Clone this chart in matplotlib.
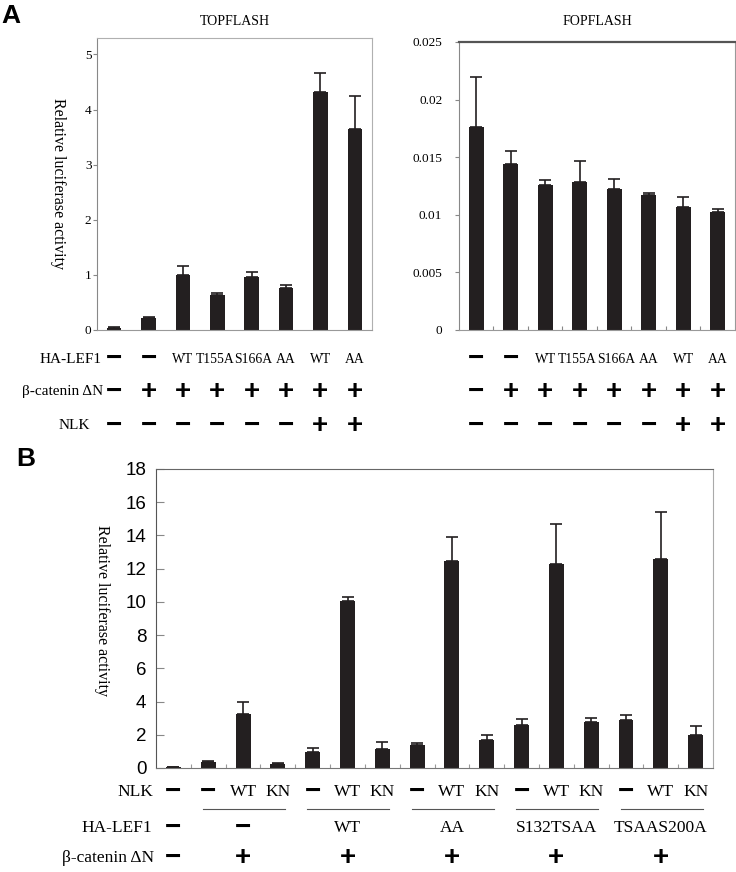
import numpy as np
import matplotlib
matplotlib.use('Agg')
import matplotlib.pyplot as plt
from matplotlib.transforms import blended_transform_factory

# --- data ---
top_mean = [0.03, 0.21, 0.99, 0.64, 0.97, 0.77, 4.32, 3.65]
top_sd = [0.02, 0.02, 0.17, 0.03, 0.08, 0.05, 0.35, 0.60]

fop_mean = [0.01763, 0.01439, 0.01257, 0.01283, 0.01223, 0.01168, 0.01064, 0.01020]
fop_sd = [0.00434, 0.00113, 0.00049, 0.00182, 0.00086, 0.00017, 0.00092, 0.00026]

a_lef1 = ['−', '−', 'WT', 'T155A', 'S166A', 'AA', 'WT', 'AA']
a_bcat = ['−', '+', '+', '+', '+', '+', '+', '+']
a_nlk = ['−', '−', '−', '−', '−', '−', '+', '+']

top_ticks = [0, 1, 2, 3, 4, 5]
fop_ticks = [0, 0.005, 0.01, 0.015, 0.02, 0.025]
fop_ticklabels = ['0', '0.005', '0.01', '0.015', '0.02', '0.025']

b_mean = [0.04, 0.34, 3.23, 0.24, 0.98, 10.08, 1.14, 1.39, 12.43, 1.67,
          2.57, 12.27, 2.79, 2.87, 12.57, 1.99]
b_sd = [0.0, 0.08, 0.77, 0.04, 0.21, 0.24, 0.41, 0.11, 1.50, 0.32,
        0.40, 2.41, 0.24, 0.32, 2.81, 0.56]
b_nlk = ['−', '−', 'WT', 'KN', '−', 'WT', 'KN', '−', 'WT', 'KN',
         '−', 'WT', 'KN', '−', 'WT', 'KN']
# groups: (first bar, last bar, HA-LEF1 label, beta-catenin label)
b_groups = [(0, 0, '−', '−'), (1, 3, '−', '+'), (4, 6, 'WT', '+'),
            (7, 9, 'AA', '+'), (10, 12, 'S132TSAA', '+'), (13, 15, 'TSAAS200A', '+')]
b_ticks = [0, 2, 4, 6, 8, 10, 12, 14, 16, 18]

SERIF = 'Liberation Serif'
SANS = 'Liberation Sans'
BAR = '#231f20'

fig = plt.figure(figsize=(7.36, 8.72), dpi=100)


def sym(ax, trans, x, y, s, size):
    # plus / minus signs drawn bold, other labels in serif
    if s in ('+', '−'):
        ax.text(x, y, s, transform=trans, ha='center', va='center',
                fontsize=20, fontweight='bold', family=SANS, clip_on=False)
    else:
        ax.text(x, y, s, transform=trans, ha='center', va='center',
                fontsize=size, family=SERIF, clip_on=False)


def table_row(ax, y, labels, size):
    trans = blended_transform_factory(ax.transData, fig.transFigure)
    for i, s in enumerate(labels):
        if s == 'T155A':
            ax.text(i + 0.5, y, s, transform=trans, ha='right', va='center',
                    fontsize=size, family=SERIF)
        elif s == 'S166A':
            ax.text(i - 0.5, y, s, transform=trans, ha='left', va='center',
                    fontsize=size, family=SERIF)
        else:
            sym(ax, trans, i, y, s, size)


rows_y = [0.588, 0.5505, 0.5115]

# --- panel A, TOPFLASH ---
ax1 = fig.add_axes([0.1318, 0.6216, 0.3736, 0.3349])
x = np.arange(len(top_mean))
ax1.bar(x, top_mean, width=0.42, color=BAR)
ax1.errorbar(x, top_mean, yerr=[np.zeros(len(top_sd)), top_sd], fmt='none',
             ecolor=BAR, elinewidth=1.2, capsize=4, capthick=1.2)
ax1.set_xlim(-0.5, 7.5)
ax1.set_ylim(0, 5.3)
ax1.set_xticks([])
ax1.set_yticks(top_ticks)
ax1.tick_params(axis='y', direction='out', length=3, pad=1, color='#888',
                labelsize=9.5)
for lab in ax1.get_yticklabels():
    lab.set_family(SERIF)
for side in ['top', 'right']:
    ax1.spines[side].set_color('#b0b0b0')
ax1.spines['left'].set_color('#888')
ax1.spines['bottom'].set_color('#999')
ax1.set_title('TOPFLASH', family=SERIF, fontsize=10, pad=9)
ax1.text(-0.142, 0.5, 'Relative luciferase activity', transform=ax1.transAxes,
         rotation=-90, ha='center', va='center', family=SERIF, fontsize=11.5)

table_row(ax1, rows_y[0], a_lef1, 9.8)
table_row(ax1, rows_y[1], a_bcat, 9.8)
table_row(ax1, rows_y[2], a_nlk, 9.8)
fig.text(0.1386, rows_y[0], 'HA-LEF1', ha='right', va='center', family=SERIF, fontsize=11)
fig.text(0.1400, rows_y[1], 'β-catenin ΔN', ha='right', va='center', family=SERIF, fontsize=11)
fig.text(0.1223, rows_y[2], 'NLK', ha='right', va='center', family=SERIF, fontsize=11)

# --- panel A, FOPFLASH ---
ax2 = fig.add_axes([0.6236, 0.6216, 0.3750, 0.3303])
ax2.bar(x, fop_mean, width=0.43, color=BAR)
ax2.errorbar(x, fop_mean, yerr=[np.zeros(len(fop_sd)), fop_sd], fmt='none',
             ecolor=BAR, elinewidth=1.2, capsize=4, capthick=1.2)
ax2.set_xlim(-0.5, 7.5)
ax2.set_ylim(0, 0.025)
ax2.set_xticks(np.arange(0.5, 7.5, 1))
ax2.set_xticklabels([])
ax2.tick_params(axis='x', direction='in', length=3, color='#888')
ax2.set_yticks(fop_ticks)
ax2.set_yticklabels(fop_ticklabels, family=SERIF, fontsize=9.5)
ax2.tick_params(axis='y', direction='out', length=3, pad=9, color='#888')
ax2.spines['top'].set_color('#555')
ax2.spines['top'].set_linewidth(1.6)
ax2.spines['right'].set_color('#999')
ax2.spines['left'].set_color('#888')
ax2.spines['bottom'].set_color('#999')
ax2.set_title('FOPFLASH', family=SERIF, fontsize=10, pad=12)

table_row(ax2, rows_y[0], a_lef1, 9.8)
table_row(ax2, rows_y[1], a_bcat, 9.8)
table_row(ax2, rows_y[2], a_nlk, 9.8)

# --- panel B ---
ax3 = fig.add_axes([0.2120, 0.1193, 0.7568, 0.3429])
xb = np.arange(len(b_mean))
ax3.bar(xb, b_mean, width=0.43, color=BAR)
ax3.errorbar(xb, b_mean, yerr=[np.zeros(len(b_sd)), b_sd], fmt='none',
             ecolor=BAR, elinewidth=1.2, capsize=4, capthick=1.2)
ax3.set_xlim(-0.5, 15.5)
ax3.set_ylim(0, 18)
ax3.set_xticks(np.arange(0.5, 15.5, 1))
ax3.set_xticklabels([])
ax3.tick_params(axis='x', direction='in', length=3, color='#999')
ax3.set_yticks(b_ticks)
ax3.tick_params(axis='y', direction='in', length=6, pad=7, color='#888',
                labelsize=13.5)
for lab in ax3.get_yticklabels():
    lab.set_family(SANS)
ax3.spines['left'].set_color('#555')
ax3.spines['top'].set_color('#666')
ax3.spines['right'].set_color('#aaa')
ax3.spines['bottom'].set_color('#777')
ax3.text(-0.097, 0.528, 'Relative luciferase activity', transform=ax3.transAxes,
         rotation=-90, ha='center', va='center', family=SERIF, fontsize=11.5)

transb = blended_transform_factory(ax3.transData, fig.transFigure)
b_rows = [0.0917, 0.0505, 0.0160]
for i, s in enumerate(b_nlk):
    sym(ax3, transb, i, b_rows[0], s, 12.5)
for first, last, lef, bcat in b_groups:
    mid = (first + last) / 2
    sym(ax3, transb, mid, b_rows[1], lef, 12.5)
    sym(ax3, transb, mid, b_rows[2], bcat, 12.5)
    if last > first:
        ax3.plot([first - 0.15, last + 0.2], [0.0722, 0.0722], transform=transb,
                 color='#555', lw=0.8, clip_on=False)
fig.text(0.2090, b_rows[0], 'NLK', ha='right', va='center', family=SERIF, fontsize=12.5)
fig.text(0.2065, b_rows[1], 'HA-LEF1', ha='right', va='center', family=SERIF, fontsize=12.5)
fig.text(0.2090, b_rows[2], 'β-catenin ΔN', ha='right', va='center', family=SERIF, fontsize=12.5)

# panel letters
fig.text(0.002, 0.995, 'A', ha='left', va='top', family=SANS, fontweight='bold', fontsize=19)
fig.text(0.022, 0.487, 'B', ha='left', va='top', family=SANS, fontweight='bold', fontsize=19)

fig.savefig('out.png', dpi=100)
